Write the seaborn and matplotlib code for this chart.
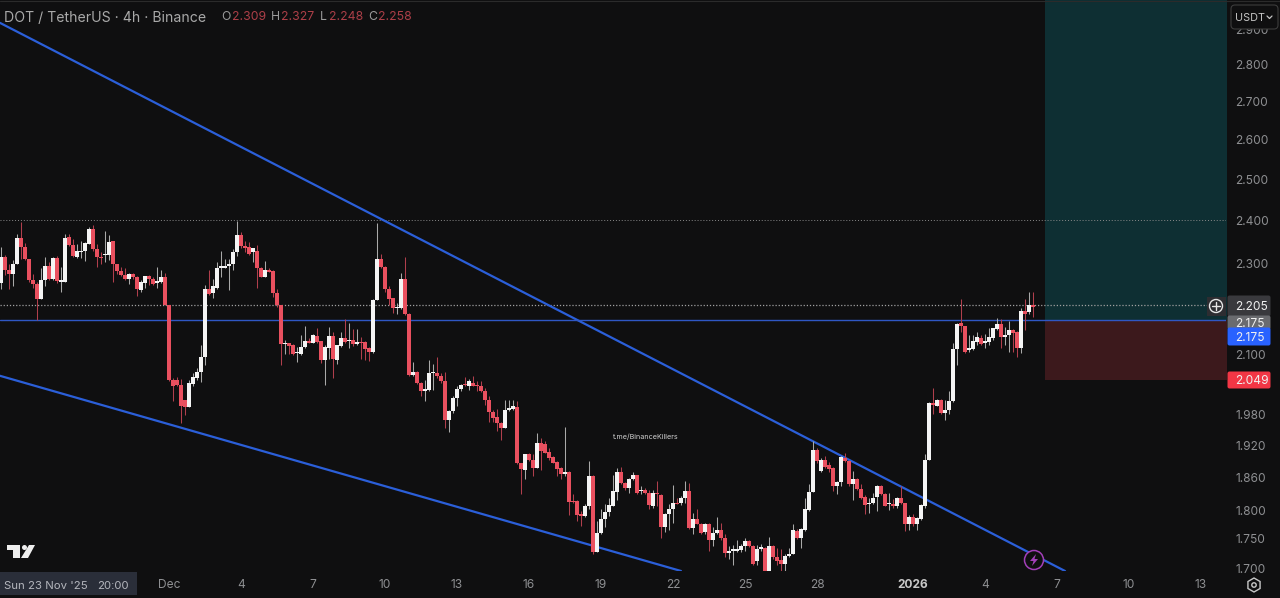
import numpy as np
import pandas as pd
import seaborn as sns
import matplotlib.pyplot as plt
import matplotlib.dates as mdates
from matplotlib.patches import Circle, FancyBboxPatch, Polygon, Rectangle, RegularPolygon
from matplotlib.ticker import NullLocator

# W = white (up) candle, R = red (down) candle
direction = ("WRRWWRRRRR" "WWRWRWWRRW" "WWWRRRWWRR" "RRWRRWWRRW" "WRRRRRRWWW" "WWRWWWWWWW"
             "RRRWRRWRRR" "RWRRWWWRWR" "RWWRWWRWRW" "RRRWWRRRRW" "WRRWRRWWWR" "RRWWWWRWRR"
             "RRRRRRWWWR" "RWRRWRRRRR" "RWRRRRWWRW" "WWWWWRRWWR" "WRRWRRWWWR" "WWRWRRWRWW"
             "RRWWWWWRRW" "WRWRRRWWWR" "WWWWRWRRRW" "WRRWRRRWWW" "RRWRWRRWRW" "WWWRWRWWWW"
             "RRWWWRWWWW" "RWWRRWRWR")

body_top = [2.314,2.314,2.284,2.299,2.358,2.358,2.337,2.310,2.263,2.254,
    2.262,2.294,2.294,2.312,2.312,2.262,2.359,2.361,2.341,2.328,
    2.328,2.346,2.379,2.379,2.333,2.314,2.320,2.349,2.351,2.298,
    2.282,2.273,2.276,2.276,2.269,2.258,2.271,2.271,2.264,2.259,
    2.268,2.268,2.207,2.049,2.049,2.039,2.009,2.042,2.055,2.065,
    2.095,2.243,2.243,2.248,2.290,2.293,2.293,2.299,2.326,2.366,
    2.366,2.339,2.337,2.335,2.327,2.288,2.285,2.285,2.282,2.233,
    2.206,2.124,2.124,2.120,2.107,2.117,2.129,2.129,2.141,2.139,
    2.130,2.117,2.140,2.140,2.120,2.136,2.136,2.132,2.131,2.128,
    2.128,2.128,2.114,2.217,2.310,2.310,2.292,2.243,2.221,2.202,
    2.265,2.265,2.188,2.065,2.065,2.042,2.031,2.063,2.064,2.063,
    2.057,2.046,1.986,2.012,2.031,2.039,2.041,2.046,2.042,2.039,
    2.037,2.026,2.009,1.985,1.975,1.962,1.989,1.993,1.996,1.994,
    1.886,1.903,1.903,1.893,1.925,1.925,1.922,1.907,1.898,1.888,
    1.878,1.870,1.870,1.817,1.816,1.793,1.808,1.862,1.862,1.760,
    1.784,1.798,1.809,1.835,1.870,1.870,1.850,1.857,1.864,1.864,
    1.837,1.837,1.832,1.831,1.832,1.827,1.794,1.802,1.813,1.814,
    1.823,1.835,1.835,1.784,1.784,1.775,1.775,1.775,1.760,1.765,
    1.765,1.751,1.729,1.732,1.732,1.737,1.746,1.746,1.737,1.733,
    1.736,1.734,1.737,1.737,1.719,1.713,1.721,1.724,1.765,1.764,
    1.767,1.802,1.834,1.911,1.912,1.892,1.892,1.882,1.878,1.851,
    1.897,1.896,1.890,1.856,1.856,1.839,1.824,1.813,1.823,1.844,
    1.844,1.830,1.813,1.811,1.823,1.823,1.813,1.789,1.789,1.786,
    1.809,1.893,2.002,2.002,2.009,2.009,1.988,2.007,2.112,2.165,
    2.167,2.161,2.114,2.130,2.137,2.135,2.130,2.137,2.156,2.165,
    2.165,2.141,2.152,2.152,2.149,2.193,2.193,2.206,2.206]

body_bot = [2.256,2.284,2.275,2.275,2.298,2.337,2.310,2.263,2.254,2.219,
    2.219,2.262,2.265,2.265,2.259,2.258,2.258,2.341,2.316,2.314,
    2.326,2.327,2.345,2.333,2.314,2.312,2.319,2.318,2.298,2.282,
    2.273,2.265,2.265,2.268,2.241,2.240,2.256,2.264,2.253,2.256,
    2.258,2.207,2.049,2.037,2.039,1.996,1.994,1.994,2.040,2.053,
    2.065,2.095,2.230,2.232,2.245,2.289,2.290,2.293,2.299,2.325,
    2.339,2.336,2.320,2.326,2.288,2.269,2.269,2.281,2.234,2.206,
    2.122,2.122,2.119,2.101,2.105,2.102,2.117,2.126,2.126,2.128,
    2.089,2.090,2.115,2.092,2.090,2.118,2.128,2.129,2.122,2.123,
    2.124,2.112,2.107,2.107,2.217,2.292,2.243,2.219,2.199,2.200,
    2.199,2.187,2.059,2.059,2.042,2.026,2.026,2.029,2.063,2.057,
    2.046,1.968,1.968,1.986,2.012,2.031,2.039,2.037,2.037,2.036,
    2.026,2.009,1.985,1.973,1.962,1.953,1.953,1.988,1.991,1.886,
    1.875,1.873,1.892,1.878,1.878,1.909,1.906,1.896,1.887,1.875,
    1.867,1.867,1.815,1.815,1.791,1.790,1.790,1.808,1.727,1.728,
    1.760,1.784,1.798,1.808,1.834,1.849,1.840,1.841,1.856,1.832,
    1.835,1.831,1.809,1.808,1.829,1.770,1.770,1.793,1.803,1.812,
    1.813,1.823,1.768,1.768,1.776,1.760,1.761,1.748,1.748,1.760,
    1.751,1.726,1.726,1.729,1.729,1.730,1.737,1.737,1.707,1.712,
    1.733,1.695,1.695,1.719,1.712,1.707,1.707,1.720,1.724,1.751,
    1.751,1.765,1.801,1.834,1.890,1.872,1.880,1.876,1.844,1.844,
    1.851,1.890,1.847,1.848,1.839,1.823,1.809,1.811,1.813,1.824,
    1.829,1.808,1.811,1.808,1.808,1.813,1.775,1.775,1.775,1.775,
    1.784,1.808,1.893,1.999,1.997,1.982,1.983,1.988,2.006,2.112,
    2.162,2.107,2.110,2.112,2.128,2.123,2.124,2.128,2.135,2.154,
    2.138,2.138,2.141,2.147,2.114,2.114,2.188,2.191,2.202]

highs = [2.337,2.318,2.299,2.308,2.368,2.397,2.346,2.310,2.275,2.258,
    2.288,2.314,2.303,2.314,2.316,2.292,2.368,2.368,2.355,2.345,
    2.351,2.349,2.383,2.389,2.345,2.326,2.375,2.365,2.351,2.299,
    2.292,2.288,2.278,2.278,2.271,2.262,2.272,2.273,2.269,2.292,
    2.285,2.278,2.207,2.053,2.055,2.051,2.009,2.049,2.063,2.072,
    2.120,2.251,2.284,2.265,2.303,2.329,2.310,2.310,2.333,2.399,
    2.373,2.351,2.349,2.335,2.343,2.292,2.305,2.288,2.284,2.243,
    2.206,2.131,2.125,2.122,2.117,2.141,2.162,2.135,2.144,2.156,
    2.129,2.120,2.159,2.149,2.120,2.148,2.177,2.167,2.154,2.154,
    2.138,2.129,2.116,2.219,2.393,2.320,2.293,2.248,2.222,2.211,
    2.278,2.314,2.190,2.086,2.067,2.044,2.049,2.090,2.081,2.095,
    2.062,2.065,1.989,2.016,2.036,2.041,2.055,2.051,2.057,2.046,
    2.046,2.032,2.017,1.988,1.990,1.964,2.009,2.009,2.009,2.006,
    1.887,1.904,1.905,1.903,1.943,1.934,1.928,1.915,1.899,1.890,
    1.880,1.956,1.871,1.829,1.818,1.799,1.811,1.890,1.864,1.781,
    1.803,1.811,1.823,1.865,1.878,1.880,1.851,1.859,1.870,1.864,
    1.844,1.841,1.837,1.837,1.853,1.829,1.796,1.812,1.845,1.823,
    1.826,1.854,1.850,1.795,1.802,1.778,1.777,1.777,1.770,1.789,
    1.777,1.758,1.737,1.739,1.748,1.741,1.752,1.748,1.739,1.739,
    1.741,1.736,1.753,1.739,1.734,1.732,1.724,1.734,1.775,1.767,
    1.768,1.823,1.847,1.928,1.915,1.896,1.899,1.888,1.880,1.853,
    1.899,1.905,1.893,1.872,1.859,1.847,1.827,1.823,1.832,1.845,
    1.845,1.832,1.832,1.820,1.824,1.844,1.814,1.791,1.793,1.789,
    1.811,1.903,2.004,2.032,2.010,2.010,2.009,2.026,2.124,2.168,
    2.219,2.162,2.141,2.141,2.149,2.141,2.145,2.156,2.157,2.178,
    2.177,2.159,2.171,2.154,2.150,2.200,2.219,2.236,2.236]

lows = [2.243,2.273,2.243,2.249,2.298,2.310,2.308,2.258,2.245,2.175,
    2.219,2.248,2.263,2.263,2.256,2.236,2.258,2.339,2.314,2.312,
    2.312,2.305,2.345,2.329,2.292,2.299,2.303,2.308,2.258,2.275,
    2.271,2.263,2.253,2.265,2.226,2.236,2.245,2.251,2.250,2.245,
    2.256,2.206,2.047,2.007,2.036,1.962,1.978,1.994,2.036,2.048,
    2.044,2.079,2.228,2.221,2.243,2.268,2.288,2.240,2.284,2.316,
    2.336,2.326,2.318,2.303,2.245,2.268,2.268,2.279,2.225,2.202,
    2.079,2.103,2.103,2.100,2.086,2.100,2.115,2.124,2.125,2.125,
    2.083,2.039,2.092,2.052,2.082,2.117,2.125,2.115,2.118,2.120,
    2.092,2.089,2.088,2.105,2.217,2.290,2.236,2.206,2.190,2.188,
    2.198,2.185,2.057,2.057,2.041,2.017,2.007,2.027,2.028,2.052,
    2.042,1.954,1.946,1.982,1.996,2.026,2.037,2.028,2.036,2.026,
    2.025,1.999,1.964,1.964,1.948,1.931,1.953,1.986,1.989,1.884,
    1.829,1.857,1.890,1.862,1.878,1.874,1.905,1.892,1.886,1.862,
    1.857,1.862,1.791,1.814,1.781,1.772,1.789,1.802,1.724,1.727,
    1.758,1.770,1.790,1.807,1.818,1.847,1.837,1.831,1.855,1.829,
    1.829,1.829,1.802,1.805,1.808,1.752,1.762,1.765,1.777,1.811,
    1.809,1.814,1.767,1.758,1.775,1.758,1.758,1.729,1.737,1.758,
    1.748,1.718,1.716,1.705,1.728,1.728,1.729,1.736,1.705,1.705,
    1.729,1.694,1.694,1.716,1.705,1.695,1.695,1.718,1.723,1.749,
    1.734,1.764,1.799,1.834,1.886,1.869,1.878,1.869,1.835,1.829,
    1.844,1.888,1.844,1.819,1.837,1.821,1.793,1.796,1.811,1.799,
    1.827,1.807,1.801,1.805,1.805,1.811,1.764,1.765,1.772,1.765,
    1.783,1.805,1.892,1.980,1.996,1.981,1.968,1.980,2.005,2.079,
    2.149,2.105,2.107,2.110,2.120,2.120,2.114,2.120,2.131,2.152,
    2.115,2.120,2.107,2.107,2.095,2.105,2.152,2.188,2.181]

# 2.200 and 2.040 sit behind the price tags in the reference
price_ticks = [2.9, 2.8, 2.7, 2.6, 2.5, 2.4, 2.3, 2.1, 1.98, 1.92, 1.86, 1.8, 1.75, 1.7]
price_labels = ["2.900", "2.800", "2.700", "2.600", "2.500", "2.400", "2.300", "2.100",
                "1.980", "1.920", "1.860", "1.800", "1.750", "1.700"]
date_ticks = ["2025-12-01", "2025-12-04", "2025-12-07", "2025-12-10", "2025-12-13", "2025-12-16",
              "2025-12-19", "2025-12-22", "2025-12-25", "2025-12-28", "2026-01-01", "2026-01-04",
              "2026-01-07", "2026-01-10", "2026-01-13"]
date_labels = ["Dec", "4", "7", "10", "13", "16", "19", "22", "25", "28", "2026", "4", "7", "10", "13"]

upper_dates = ["2025-11-23 23:00", "2026-01-07 08:00"]
upper_prices = [2.919, 1.695]
lower_dates = ["2025-11-23 23:00", "2025-12-22 08:00"]
lower_prices = [2.057, 1.695]
entry_price = 2.175
stop_price = 2.049
target_price = 2.986
high_level = 2.400
last_level = 2.206
position_start = "2026-01-06 12:00"

bg = "#0f0f10"
red = "#e9505f"
blue = "#2b5fd9"
grey = "#8e8f92"

sns.set_theme(style="dark", rc={"axes.facecolor": bg, "figure.facecolor": bg})
plt.rcParams["font.family"] = ["Inter", "DejaVu Sans"]

fig = plt.figure(figsize=(12.8, 5.98), dpi=100)
ax = fig.add_axes([0, 27 / 598, 1226 / 1280, 571 / 598])

times = pd.date_range("2025-11-24", periods=len(body_top), freq="4h")
x = mdates.date2num(times)
day0 = mdates.date2num(pd.Timestamp("2025-11-24"))
is_up = np.array([c == "W" for c in direction])
body_top = np.array(body_top)
body_bot = np.array(body_bot)
highs = np.array(highs)
lows = np.array(lows)

ax.set_yscale("log")

# long position boxes
pos_x0 = mdates.date2num(pd.Timestamp(position_start))
ax.fill_between([pos_x0, day0 + 52], entry_price, target_price, color="#0e2f33", lw=0, zorder=1)
ax.fill_between([pos_x0, day0 + 52], stop_price, entry_price, color="#3c191c", lw=0, zorder=1)

ax.axhline(high_level, color="#8a8a8a", lw=0.7, ls=(0, (1, 2)), zorder=2)
ax.axhline(last_level, color="#a0a0a0", lw=0.9, ls=(0, (1, 1.5)), zorder=2)

trend = pd.DataFrame({
    "x": list(mdates.date2num(pd.to_datetime(upper_dates))) + list(mdates.date2num(pd.to_datetime(lower_dates))),
    "price": upper_prices + lower_prices,
    "line": ["upper", "upper", "lower", "lower"],
})
sns.lineplot(data=trend, x="x", y="price", units="line", estimator=None, sort=False,
             color=blue, lw=1.6, ax=ax, legend=False, zorder=3)
ax.axhline(entry_price, color="#2f57c4", lw=1.0, zorder=3)

# wicks then bodies
ax.vlines(x[is_up], lows[is_up], highs[is_up], color="#a9a9a9", lw=0.75, zorder=4)
ax.vlines(x[~is_up], lows[~is_up], highs[~is_up], color="#b03f4c", lw=0.75, zorder=4)
ax.bar(x[is_up], (body_top - body_bot)[is_up], bottom=body_bot[is_up], width=0.14,
       color="#f4f4f4", lw=0, zorder=5)
ax.bar(x[~is_up], (body_top - body_bot)[~is_up], bottom=body_bot[~is_up], width=0.14,
       color=red, lw=0, zorder=5)

ax.set_xlim(day0 - 1 / 24, day0 + 51.04)
ax.set_ylim(1.695, target_price)
ax.grid(False)
ax.set_xlabel("")
ax.set_ylabel("")
for s in ax.spines.values():
    s.set_visible(False)

ax.yaxis.tick_right()
ax.yaxis.set_minor_locator(NullLocator())
ax.set_yticks(price_ticks)
ax.set_yticklabels(price_labels)
ax.tick_params(axis="y", length=0, pad=6.5, labelsize=8.6, labelcolor=grey)
ax.set_xticks(mdates.date2num(pd.to_datetime(date_ticks)))
ax.set_xticklabels(date_labels)
ax.tick_params(axis="x", length=0, pad=5.5, labelsize=8.6, labelcolor=grey)
for lab in ax.get_xticklabels():
    if lab.get_text() == "2026":
        lab.set_fontweight("bold")
        lab.set_color("#c8c8c8")

# interface parts, drawn in pixel coordinates on top
ui = fig.add_axes([0, 0, 1, 1], zorder=10)
ui.set_xlim(0, 1280)
ui.set_ylim(598, 0)
ui.axis("off")
ui.patch.set_alpha(0)


def tag(x0, y0, x1, y1, color, label, tcolor="#f0f0f0"):
    ui.add_patch(FancyBboxPatch((x0 + 2, y0 + 1), x1 - x0 - 4, y1 - y0 - 2,
                                boxstyle="round,pad=1.5,rounding_size=2", fc=color, ec="none"))
    ui.text(x0 + 8.5, (y0 + y1) / 2, label, color=tcolor, fontsize=8.6, va="center_baseline", ha="left")


ui.plot([0, 1280], [0.5, 0.5], color="#2b2b2b", lw=0.8)
ui.text(4, 16, "DOT / TetherUS · 4h · Binance", color="#a9a9a9", fontsize=10.15, va="center_baseline")
ohlc = [("O", 221, "2.309", 232), ("H", 271, "2.327", 281), ("L", 320, "2.248", 329), ("C", 368, "2.258", 378)]
for name, x0, val, x1 in ohlc:
    ui.text(x0, 16, name, color="#9a9a9a", fontsize=8.8, va="center_baseline")
    ui.text(x1, 16, val, color="#ad3f48", fontsize=8.8, va="center_baseline")

ui.add_patch(FancyBboxPatch((1233, 7), 43, 20, boxstyle="round,pad=2,rounding_size=4", fc=bg, ec="#3c3c3c", lw=0.8))
ui.text(1235, 17, "USDT", color="#c4c4c4", fontsize=7.8, va="center_baseline")
ui.plot([1267, 1269.5, 1272], [16, 18.5, 16], color="#c4c4c4", lw=0.9)

tag(1227, 296, 1271, 316, "#39393d", "2.205")
tag(1227, 316, 1271, 329, "#6a6b6f", "2.175")
tag(1227, 328, 1271, 345, "#2962ff", "2.175")
tag(1227, 372, 1271, 388, "#f23645", "2.049")
ui.add_patch(Rectangle((1207, 297), 19, 19, fc="#2d2d31", ec="none"))
ui.add_patch(Circle((1216, 306), 6.5, fc="none", ec="#e6e6e6", lw=1))
ui.plot([1212, 1220], [306, 306], color="#e6e6e6", lw=1)
ui.plot([1216, 1216], [302, 310], color="#e6e6e6", lw=1)

ui.text(645.5, 437, "t.me/BinanceKillers", color="#d0d0d0", fontsize=5.2, ha="center", va="center")

ui.add_patch(Rectangle((0, 572), 137, 23, fc="#2a2e39", ec="none"))
ui.text(4, 585, "Sun 23 Nov '25", color="#b4b6bd", fontsize=8.2, va="center_baseline")
ui.text(97, 585, "20:00", color="#b4b6bd", fontsize=8.2, va="center_baseline")

# logo
ui.add_patch(Polygon([(7, 545), (20, 545), (20, 558), (13, 558), (13, 550), (7, 550)], fc="#eeeeee", ec="none"))
ui.add_patch(Circle((24.5, 547.5), 2.5, fc="#eeeeee", ec="none"))
ui.add_patch(Polygon([(29, 545), (35, 545), (28, 558), (21, 558)], fc="#eeeeee", ec="none"))

# alert badge
ui.add_patch(Circle((1034, 560), 9.5, fc=bg, ec="#a23fb8", lw=1.1))
ui.add_patch(Polygon([(1036, 554), (1030, 561), (1033.5, 561), (1032, 566), (1038, 559), (1034.5, 559)],
                     fc="#a23fb8", ec="none"))

# settings icon
ui.add_patch(RegularPolygon((1254, 585), 6, radius=7, orientation=np.pi / 6 + np.pi / 2, fc="none", ec="#c8c8c8", lw=1))
ui.add_patch(Circle((1254, 585), 2.2, fc="none", ec="#c8c8c8", lw=1))

fig.savefig("out.png", dpi=100, facecolor=bg)
